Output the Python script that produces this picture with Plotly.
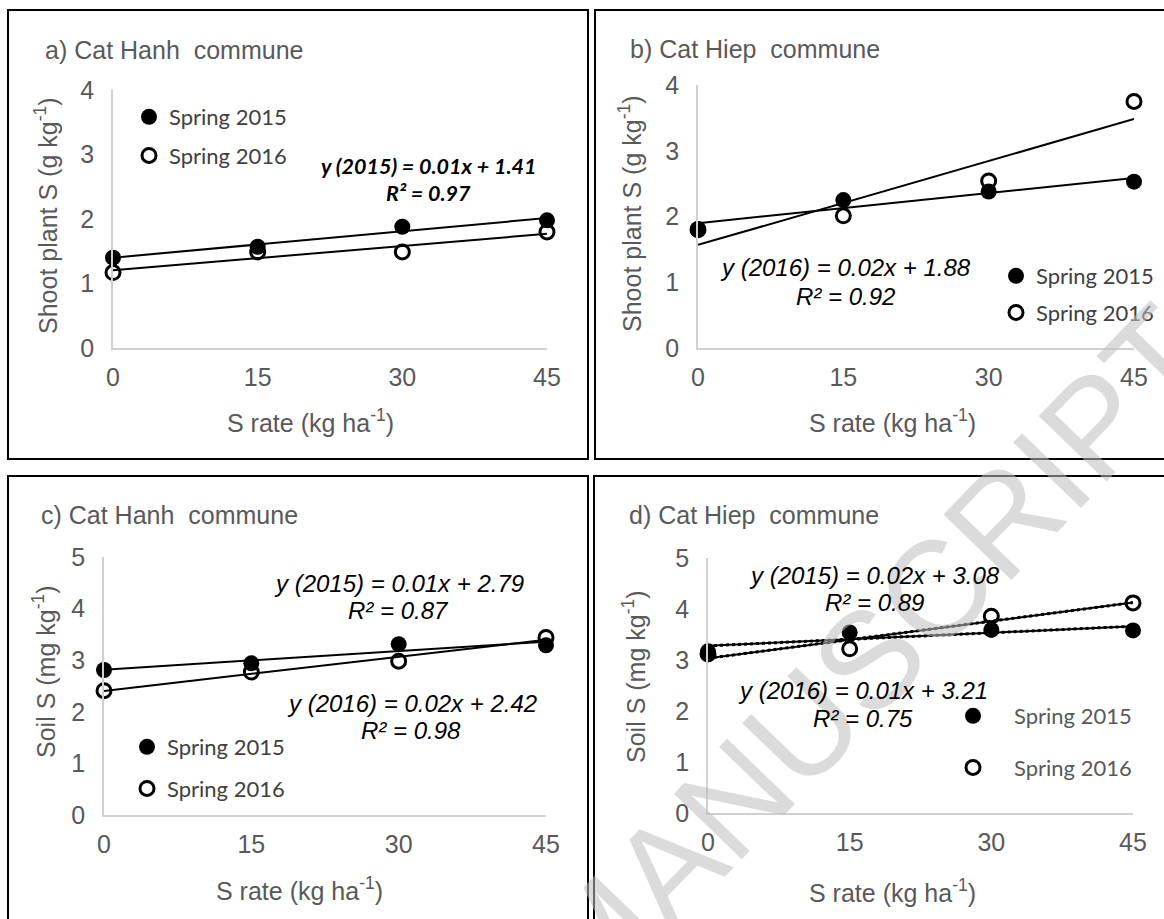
import numpy as np
import plotly.graph_objects as go

W, H = 1164, 919

# ---------------- data ----------------
rates = [0, 15, 30, 45]
x_ticks = [0, 15, 30, 45]

shoot_hanh_2015 = [1.40, 1.57, 1.88, 1.98]
shoot_hanh_2016 = [1.17, 1.49, 1.49, 1.80]
shoot_hiep_2015 = [1.81, 2.25, 2.38, 2.53]
shoot_hiep_2016 = [1.80, 2.01, 2.54, 3.75]
soil_hanh_2015 = [2.81, 2.94, 3.31, 3.29]
soil_hanh_2016 = [2.41, 2.77, 2.98, 3.44]
soil_hiep_2015 = [3.17, 3.54, 3.59, 3.58]
soil_hiep_2016 = [3.12, 3.22, 3.86, 4.12]

series_names = ["Spring 2015", "Spring 2016"]
panel_titles = ["a) Cat Hanh&nbsp; commune", "b) Cat Hiep&nbsp; commune",
                "c) Cat Hanh&nbsp; commune", "d) Cat Hiep&nbsp; commune"]
y_titles = ["Shoot plant S (g kg<sup>-1</sup>)", "Shoot plant S (g kg<sup>-1</sup>)",
            "Soil S (mg kg<sup>-1</sup>)", "Soil S (mg kg<sup>-1</sup>)"]
x_title = "S rate (kg ha<sup>-1</sup>)"
y_max = [4, 4, 5, 5]

equations = [
    [("y (2015) = 0.01x + 1.41", 428, 166), ("R² = 0.97", 428, 193)],
    [("y (2016) = 0.02x + 1.88", 845, 268), ("R² = 0.92", 845, 296)],
    [("y (2015) = 0.01x + 2.79", 399, 583), ("R² = 0.87", 398, 610),
     ("y (2016) = 0.02x + 2.42", 412, 703), ("R² = 0.98", 411, 730)],
    [("y (2015) = 0.02x + 3.08", 874, 575), ("R² = 0.89", 874, 602),
     ("y (2016) = 0.01x + 3.21", 863, 690), ("R² = 0.75", 863, 718)],
]

data = [
    (shoot_hanh_2015, shoot_hanh_2016),
    (shoot_hiep_2015, shoot_hiep_2016),
    (soil_hanh_2015, soil_hanh_2016),
    (soil_hiep_2015, soil_hiep_2016),
]


def px(v):
    return v / W


def py(v):
    return 1 - v / H


# ---------------- layout geometry (pixels) ----------------
geo = [
    (113, 547, 348, 90),
    (698, 1134, 348, 85),
    (104, 546, 815, 557),
    (708, 1133, 813, 558),
]
boxes = [(8, 10, 588, 459), (595, 10, 1175, 459), (8, 476, 588, 930), (594, 476, 1175, 930)]
title_pos = [(43, 50), (628, 49), (39, 515), (627, 515)]
ytitle_pos = [(46, 216), (630, 214), (44, 672), (634, 677)]
xtitle_pos = [(310, 421), (892, 421), (300, 889), (892, 891)]
# legend left, top, itemwidth, group gap
legend_pos = [(129, 96, 30, 7), (996, 255, 30, 5), (127, 726, 30, 10), (932, 695, 72, 20)]

GRAY = "#595959"
AX = "#d0d0d0"
FONT = "Liberation Sans, Arial, sans-serif"
FS = 25

fig = go.Figure()
legend_ids = ["legend", "legend2", "legend3", "legend4"]

for i in range(4):
    xa = "x" if i == 0 else f"x{i+1}"
    ya = "y" if i == 0 else f"y{i+1}"
    s15, s16 = data[i]
    lg = legend_ids[i]
    fig.add_trace(go.Scatter(
        x=rates, y=s16, mode="markers", name=series_names[1], xaxis=xa, yaxis=ya,
        marker=dict(symbol="circle", size=14, color="white", line=dict(color="black", width=3)),
        cliponaxis=False, legend=lg, legendgroup=f"{lg}b", legendrank=2))
    fig.add_trace(go.Scatter(
        x=rates, y=s15, mode="markers", name=series_names[0], xaxis=xa, yaxis=ya,
        marker=dict(symbol="circle", size=16, color="black", line=dict(color="black", width=0)),
        cliponaxis=False, legend=lg, legendgroup=f"{lg}a", legendrank=1))
    for s in (s15, s16):
        k, b = np.polyfit(rates, s, 1)
        xs = [rates[0], rates[-1]]
        ys = [k * v + b for v in xs]
        fig.add_trace(go.Scatter(x=xs, y=ys, mode="lines", xaxis=xa, yaxis=ya,
                                 line=dict(color="black", width=2), showlegend=False,
                                 cliponaxis=False, hoverinfo="skip"))
        if i == 3:
            fig.add_trace(go.Scatter(x=xs, y=ys, mode="lines", xaxis=xa, yaxis=ya,
                                     line=dict(color="black", width=3, dash="dot"),
                                     showlegend=False, cliponaxis=False, hoverinfo="skip"))

layout = dict(
    width=W, height=H, margin=dict(l=0, r=0, t=0, b=0, pad=0, autoexpand=False),
    paper_bgcolor="white", plot_bgcolor="rgba(0,0,0,0)",
    showlegend=True, font=dict(family=FONT, color=GRAY),
)

for i in range(4):
    x0, x1, yb, yt = geo[i]
    xk = "xaxis" if i == 0 else f"xaxis{i+1}"
    yk = "yaxis" if i == 0 else f"yaxis{i+1}"
    ya = "y" if i == 0 else f"y{i+1}"
    xa = "x" if i == 0 else f"x{i+1}"
    layout[xk] = dict(domain=[px(x0), px(x1)], range=[0, 45], anchor=ya,
                      tickvals=x_ticks, showgrid=False, zeroline=False,
                      showline=True, linecolor=AX, linewidth=1.5, ticks="",
                      tickfont=dict(family=FONT, size=FS, color=GRAY),
                      ticklabelstandoff=6, automargin=False, fixedrange=True)
    layout[yk] = dict(domain=[py(yb), py(yt)], range=[0, y_max[i]], anchor=xa,
                      dtick=1, showgrid=False, zeroline=False,
                      showline=True, linecolor=AX, linewidth=1.5, ticks="",
                      tickfont=dict(family=FONT, size=FS, color=GRAY),
                      ticklabelstandoff=12, automargin=False, fixedrange=True)
    lx, ly, iw, gap = legend_pos[i]
    lcol = "#595959" if i == 3 else "#404040"
    layout[legend_ids[i]] = dict(
        x=px(lx), y=py(ly), xanchor="left", yanchor="top", xref="paper", yref="paper",
        bgcolor="rgba(0,0,0,0)", borderwidth=0, itemwidth=iw, tracegroupgap=gap,
        traceorder="grouped",
        font=dict(family="Lato, Carlito, sans-serif", size=22, color=lcol))

fig.update_layout(**layout)

shapes = []
for (bx0, by0, bx1, by1) in boxes:
    shapes.append(dict(type="rect", xref="paper", yref="paper",
                       x0=px(bx0), x1=px(bx1), y0=py(by1), y1=py(by0),
                       line=dict(color="black", width=2), fillcolor="rgba(0,0,0,0)",
                       layer="above"))
fig.update_layout(shapes=shapes)

ann = []
# watermark of the source document
ann.append(dict(text="ACCEPTED MANUSCRIPT", x=px(599), y=py(938), xref="paper", yref="paper",
                showarrow=False, textangle=-46, xanchor="center", yanchor="middle",
                font=dict(family=FONT, size=137, color="rgba(190,190,190,0.55)")))
for i in range(4):
    tx, ty = title_pos[i]
    ann.append(dict(text=panel_titles[i], x=px(tx), y=py(ty), xref="paper", yref="paper",
                    showarrow=False, xanchor="left", yanchor="middle",
                    font=dict(family=FONT, size=FS, color=GRAY)))
    yx, yy = ytitle_pos[i]
    ann.append(dict(text=y_titles[i], x=px(yx), y=py(yy), xref="paper", yref="paper",
                    showarrow=False, textangle=-90, xanchor="center", yanchor="middle",
                    font=dict(family=FONT, size=FS, color=GRAY)))
    xx, xy = xtitle_pos[i]
    ann.append(dict(text=x_title, x=px(xx), y=py(xy), xref="paper", yref="paper",
                    showarrow=False, xanchor="center", yanchor="middle",
                    font=dict(family=FONT, size=FS, color=GRAY)))
    for (t, ex, ey) in equations[i]:
        if i == 0:
            f = dict(family="Lato, Carlito, sans-serif", size=21.5, color="black",
                     weight="bold", style="italic")
        else:
            f = dict(family=FONT, size=24, color="black", style="italic")
        ann.append(dict(text=t, x=px(ex), y=py(ey), xref="paper", yref="paper",
                        showarrow=False, xanchor="center", yanchor="middle", font=f))
fig.update_layout(annotations=ann)

fig.write_html("out.html")
